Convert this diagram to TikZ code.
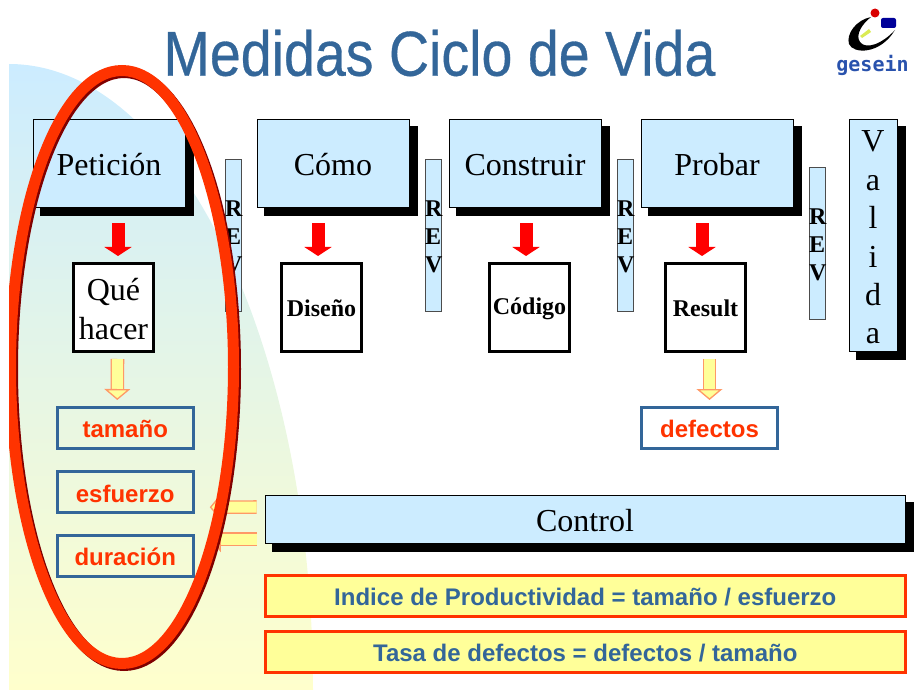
\documentclass[tikz,border=0pt]{standalone}
\usepackage{fontspec}
\setmainfont{Liberation Serif}
\setsansfont{Liberation Sans}
\newfontfamily\titlefont[FakeStretch=0.875,FakeBold=0.5]{Liberation Sans}
\newfontfamily\logofont{DejaVu Sans Mono}
\usetikzlibrary{arrows.meta}
\usetikzlibrary{shadows}
\definecolor{skyfill}{HTML}{CCECFF}
\definecolor{paleyellow}{HTML}{FFFFCC}
\definecolor{notefill}{HTML}{FFFF99}
\definecolor{noteedge}{HTML}{FF9966}
\definecolor{steelblue}{HTML}{336699}
\definecolor{signalred}{HTML}{FF3300}
\definecolor{ringdark}{HTML}{800000}
\tikzset{phase/.style = {shape=rectangle,draw=black,line width=0.8pt,fill=skyfill,inner sep=0pt,minimum width=152pt,minimum height=88pt,text height=26pt,font=\fontsize{32}{38.4}\selectfont,align=center,drop shadow={shadow xshift=8pt,shadow yshift=-8pt,fill=black,draw=black,line width=1.5pt,opacity=1}}}
\tikzset{review/.style = {shape=rectangle,draw=black!70,line width=0.8pt,fill=skyfill,inner sep=0pt,minimum height=152pt,minimum width=16pt,text width=16pt,text height=20pt,align=center,font=\fontsize{24}{28}\selectfont\bfseries}}
\tikzset{product/.style = {shape=rectangle,draw=black,line width=3pt,fill=white,inner sep=0pt,minimum width=80pt,minimum height=88pt,text height=18.5pt,align=center,font=\fontsize{24}{28}\selectfont\bfseries}}
\tikzset{measure/.style = {shape=rectangle,draw=steelblue,line width=3pt,inner sep=0pt,minimum width=136pt,minimum height=41pt,text height=20pt,text=signalred,font=\fontsize{24}{28}\selectfont\sffamily\bfseries}}
\tikzset{formula/.style = {shape=rectangle,draw=signalred,line width=3pt,fill=notefill,inner sep=0pt,minimum width=640pt,minimum height=41pt,text height=20pt,text=steelblue,font=\fontsize{24}{28}\selectfont\sffamily\bfseries}}
\tikzset{redarrow/.style = {-{Triangle[length=9pt,width=27pt]},draw=red,line width=13pt,shorten <=16pt,shorten >=6pt}}
\tikzset{softarrow/.style = {-{Triangle[length=11pt,width=26pt,fill=notefill,line width=1.3pt]},draw=noteedge,line width=1.3pt,double=notefill,double distance=11pt,shorten <=6pt,shorten >=6pt}}

\begin{document}
\begin{tikzpicture}[x=1pt,y=1pt]
            \useasboundingbox (0,0) rectangle (914,-690);

            % Background
            \shade[top color=skyfill,bottom color=paleyellow] (9,-690) -- (9,-64) arc[start angle=90,end angle=0,x radius=304pt,y radius=626pt] -- cycle;

            % Title
            \node[text=steelblue,font=\fontsize{63.5}{70}\selectfont\titlefont] (title) at (439.5,-53) {Medidas Ciclo de Vida};

            % Logo
            \fill (871,-17) .. controls (856,-20) and (846,-34) .. (849,-44) .. controls (853,-54) and (880,-55) .. (895,-30) .. controls (882,-44) and (866,-50) .. (860,-42) .. controls (855,-35) and (862,-24) .. (871,-17) -- cycle;
            \fill[yellow!80!green!70!white] (860,-36) -- (869,-29) -- (871,-32) -- (862,-38) -- cycle;
            \fill[red!85!black] (875,-13) circle [radius=4.5pt];
            \fill[blue!60!black,rounded corners=2pt] (881,-18) rectangle (896,-28);
            \node[text=steelblue!80!blue,font=\fontsize{20}{22}\selectfont\logofont\bfseries] (logo) at (872.5,-65) {gesein};

            % Phases
            \node[phase] (peticion) at (109,-163) {Petición};
            \node[phase] (como) at (333,-163) {Cómo};
            \node[phase] (construir) at (525,-163) {Construir};
            \node[phase] (probar) at (717,-163) {Probar};
            \node[phase,minimum width=48pt,minimum height=232pt,text width=48pt] (valida) at (873,-235) {V\\a\\l\\i\\d\\a};
            \node[phase,minimum width=640pt,minimum height=48pt] (control) at (585,-519) {Control};

            % Reviews
            \node[review] (rev1) at (233,-235) {R\\E\\V};
            \node[review] (rev2) at (433,-235) {R\\E\\V};
            \node[review] (rev3) at (625,-235) {R\\E\\V};
            \node[review] (rev4) at (817,-243) {R\\E\\V};

            % Products
            \node[product,text width=80pt,text height=25pt,font=\fontsize{32}{38.4}\selectfont] (quehacer) at (113.5,-307.5) {Qué\\hacer};
            \node[product] (diseno) at (321.5,-307.5) {Diseño};
            \node[product] (codigo) at (529.5,-307.5) {Código};
            \node[product] (result) at (705.5,-307.5) {Result};

            % Measures
            \node[measure] (tamano) at (125.25,-428) {tamaño};
            \node[measure] (esfuerzo) at (125.25,-492.3) {esfuerzo};
            \node[measure] (duracion) at (125.25,-556) {duración};
            \node[measure] (defectos) at (709.5,-428) {defectos};

            % Formulas
            \node[formula] (indice) at (585.3,-596) {Indice de Productividad = tamaño / esfuerzo};
            \node[formula] (tasa) at (585.3,-652) {Tasa de defectos = defectos / tamaño};

            % Arrows
            % phases
            \draw[redarrow] ([xshift=9pt]peticion.south) to ([xshift=4.5pt]quehacer.north);
            \draw[redarrow] ([xshift=-15pt]como.south) to ([xshift=-3.5pt]diseno.north);
            \draw[redarrow] ([xshift=1pt]construir.south) to ([xshift=-3.5pt]codigo.north);
            \draw[redarrow] ([xshift=-15pt]probar.south) to ([xshift=-3.5pt]result.north);

            % products
            \draw[softarrow] ([xshift=4pt]quehacer.south) to ([xshift=-8pt]tamano.north);
            \draw[softarrow] ([xshift=4pt]result.south) to (defectos.north);

            % control
            \draw[softarrow,shorten <=8pt,shorten >=15pt] ([yshift=12pt]control.west) to ([yshift=-15pt]esfuerzo.east);
            \draw[softarrow,shorten <=8pt,shorten >=15pt] ([yshift=-20pt]control.west) to ([yshift=17pt]duracion.east);

            % Ring
            \begin{scope}
                \clip (9,0) rectangle (914,-690);
                \draw[ringdark,line width=11pt] (124,-369) ellipse [x radius=111.5pt,y radius=296.5pt];
                \draw[signalred,line width=11pt] (122,-367) ellipse [x radius=111.5pt,y radius=296.5pt];
            \end{scope}

        \end{tikzpicture}
\end{document}
